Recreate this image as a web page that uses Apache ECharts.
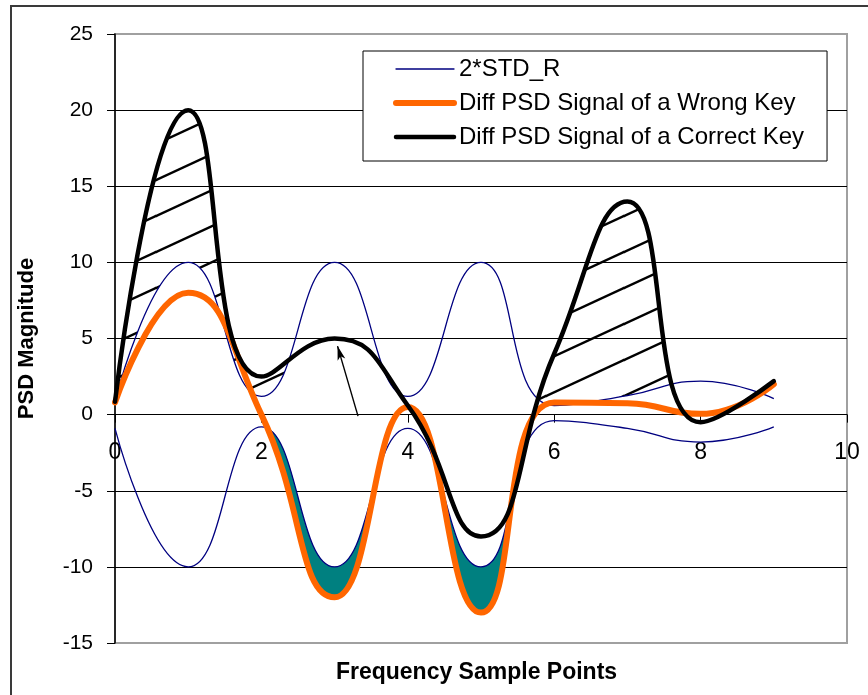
<!DOCTYPE html>
<html><head><meta charset="utf-8">
<script src="https://cdn.jsdelivr.net/npm/echarts@6/dist/echarts.min.js"></script>
<style>html,body{margin:0;padding:0;background:#fff}#c{width:868px;height:695px}</style>
</head><body><div id="c"></div>
<script>
// ---- data ----
const xs = [0, 1, 2, 3, 4, 5, 6, 7, 8, 9];
const stdUpper   = [0.9, 10, 1.2, 10, 1.2, 10, 0.6, 1.25, 2.2, 1.05];
const stdLower   = [-0.9, -10, -0.8, -10, -0.9, -10, -0.4, -0.9, -1.8, -0.8];
const wrongKey   = [0.8, 8, 0, -12, 0.5, -13, 0.8, 0.75, 0.05, 2.0];
const correctKey = [0.85, 20, 2.5, 5, 0.6, -8, 4.0, 14, -0.5, 2.2];
const seriesNames = ['2*STD_R', 'Diff PSD Signal of a Wrong Key', 'Diff PSD Signal of a Correct Key'];
const xAxisName = 'Frequency Sample Points';
const yAxisName = 'PSD Magnitude';
const xRange = [0, 10, 2];     // min, max, interval
const yRange = [-15, 25, 5];
// annotation arrow pointing at the correct-key point at x = 3
const arrowTail = [3.32, -0.1];
const arrowHead = [3.04, 4.5];
// x ranges where the hatched "correct key above 2*STD" area is marked
const hatchRanges = [[0, 3], [5, 8]];

const FONT = 'Liberation Sans, Arial, sans-serif';
const SMOOTH = 0.5;
const COLORS = ['#000080', '#FF6600', '#000000'];
const WIDTHS = [1.3, 6, 4.5];
const GRID = { left: 115, right: 21, top: 34, bottom: 52 };
const H = 695;

function pairs(arr) { return xs.map((x, i) => [x, arr[i]]); }

// same bezier construction as ECharts' smoothed line (so fills follow the drawn lines)
function smoothSegs(pts, smooth) {
  const segs = [];
  let prevX, prevY, cpx0, cpy0, cpx1, cpy1;
  const n = pts.length;
  for (let idx = 0; idx < n; idx++) {
    const x = pts[idx][0], y = pts[idx][1];
    if (idx === 0) { cpx0 = x; cpy0 = y; }
    else {
      let nextCpx0, nextCpy0;
      if (idx === n - 1) { cpx1 = x; cpy1 = y; }
      else {
        const nextX = pts[idx + 1][0], nextY = pts[idx + 1][1];
        let vx = nextX - prevX, vy = nextY - prevY;
        const dx0 = x - prevX, dx1 = nextX - x, dy0 = y - prevY, dy1 = nextY - y;
        const lenPrev = Math.sqrt(dx0 * dx0 + dy0 * dy0), lenNext = Math.sqrt(dx1 * dx1 + dy1 * dy1);
        const ratio = lenNext / (lenNext + lenPrev);
        nextCpx0 = x + vx * smooth * ratio;
        nextCpy0 = y + vy * smooth * ratio;
        nextCpx0 = Math.min(nextCpx0, Math.max(nextX, x));
        nextCpy0 = Math.min(nextCpy0, Math.max(nextY, y));
        nextCpx0 = Math.max(nextCpx0, Math.min(nextX, x));
        nextCpy0 = Math.max(nextCpy0, Math.min(nextY, y));
        vx = nextCpx0 - x; vy = nextCpy0 - y;
        cpx1 = x - vx * lenPrev / lenNext;
        cpy1 = y - vy * lenPrev / lenNext;
        cpx1 = Math.min(cpx1, Math.max(prevX, x));
        cpy1 = Math.min(cpy1, Math.max(prevY, y));
        cpx1 = Math.max(cpx1, Math.min(prevX, x));
        cpy1 = Math.max(cpy1, Math.min(prevY, y));
        vx = x - cpx1; vy = y - cpy1;
        nextCpx0 = x + vx * lenNext / lenPrev;
        nextCpy0 = y + vy * lenNext / lenPrev;
      }
      segs.push([prevX, prevY, cpx0, cpy0, cpx1, cpy1, x, y]);
      cpx0 = nextCpx0; cpy0 = nextCpy0;
    }
    prevX = x; prevY = y;
  }
  return segs;
}
function sampleCurve(pts) {
  const out = [];
  smoothSegs(pts, SMOOTH).forEach(s => {
    for (let k = 0; k <= 80; k++) {
      const t = k / 80, u = 1 - t;
      const a = u * u * u, b = 3 * u * u * t, c = 3 * u * t * t, d = t * t * t;
      out.push([a * s[0] + b * s[2] + c * s[4] + d * s[6], a * s[1] + b * s[3] + c * s[5] + d * s[7]]);
    }
  });
  out.sort((p, q) => p[0] - q[0]);
  return out;
}
function yAt(samples, x) {
  let lo = 0, hi = samples.length - 1;
  if (x <= samples[0][0]) return samples[0][1];
  if (x >= samples[hi][0]) return samples[hi][1];
  while (hi - lo > 1) { const m = (lo + hi) >> 1; if (samples[m][0] <= x) lo = m; else hi = m; }
  const p = samples[lo], q = samples[hi];
  const t = q[0] === p[0] ? 0 : (x - p[0]) / (q[0] - p[0]);
  return p[1] + t * (q[1] - p[1]);
}
// polygons where curve A lies above curve B (smaller pixel y)
function regionsAbove(A, B, x0, x1) {
  const polys = []; let cur = null;
  const flush = () => {
    if (cur && cur.length > 1) {
      const top = cur.map(p => [p[0], p[1]]);
      const bot = cur.slice().reverse().map(p => [p[0], p[2]]);
      polys.push(top.concat(bot));
    }
    cur = null;
  };
  for (let px = x0; px <= x1; px += 0.5) {
    const ya = yAt(A, px), yb = yAt(B, px);
    if (ya < yb) { if (!cur) cur = []; cur.push([px, ya, yb]); }
    else flush();
  }
  flush();
  return polys;
}
function makeHatch() {
  const w = 78, h = 36, c = document.createElement('canvas');
  c.width = w; c.height = h;
  const g = c.getContext('2d');
  g.strokeStyle = '#000'; g.lineWidth = 2.4;
  [-h, 0, h].forEach(off => { g.beginPath(); g.moveTo(-2, h + off + 1); g.lineTo(w + 2, off - 1); g.stroke(); });
  return c;
}
const hatchPattern = { image: makeHatch(), repeat: 'repeat' };

function renderFills(params, api) {
  const px = arr => xs.map((x, i) => api.coord([x, arr[i]]));
  const up = sampleCurve(px(stdUpper)), lo = sampleCurve(px(stdLower));
  const wr = sampleCurve(px(wrongKey)), co = sampleCurve(px(correctKey));
  const children = [];
  hatchRanges.forEach(r => {
    const a = api.coord([r[0], 0])[0], b = api.coord([r[1], 0])[0];
    regionsAbove(co, up, a, b).forEach(pts => children.push({
      type: 'polygon', shape: { points: pts }, style: { fill: hatchPattern, stroke: null }
    }));
  });
  const x0 = api.coord([xs[0], 0])[0], x1 = api.coord([xs[xs.length - 1], 0])[0];
  regionsAbove(lo, wr, x0, x1).forEach(pts => children.push({
    type: 'polygon', shape: { points: pts }, style: { fill: '#008080', stroke: null }
  }));
  return { type: 'group', children };
}

const chart = echarts.init(document.getElementById('c'), null, { renderer: 'canvas' });
const yTickCount = Math.round((yRange[1] - yRange[0]) / yRange[2]) + 1;
const splitColors = [];
for (let i = 0; i < yTickCount; i++) splitColors.push(i === 0 || i === yTickCount - 1 ? '#a0a0a0' : '#000');
// the x axis crosses the value axis at y = 0
const gridH = H - GRID.top - GRID.bottom;
const xAxisOffset = -gridH * (0 - yRange[0]) / (yRange[1] - yRange[0]);

const lineBase = { type: 'line', smooth: SMOOTH, showSymbol: false, symbol: 'none', animation: false, silent: true };

chart.setOption({
  animation: false,
  textStyle: { fontFamily: FONT },
  grid: Object.assign({ outerBoundsMode: 'none', containLabel: false,
          show: true, borderColor: '#a0a0a0', borderWidth: 2, backgroundColor: '#fff' }, GRID),
  legend: {
    data: seriesNames.map((n, i) => ({ name: n, lineStyle: { width: WIDTHS[i], color: COLORS[i], cap: 'round' } })),
    orient: 'vertical', left: 363, top: 51,
    backgroundColor: '#fff', borderColor: '#000', borderWidth: 1, borderRadius: 0,
    padding: [6, 23, 12, 30], itemGap: 10, itemWidth: 58, itemHeight: 20,
    itemStyle: { opacity: 0 },
    textStyle: { fontFamily: FONT, fontSize: 24, color: '#000' }
  },
  xAxis: {
    type: 'value', min: xRange[0], max: xRange[1], interval: xRange[2],
    position: 'bottom', offset: xAxisOffset,
    name: xAxisName, nameLocation: 'middle', nameGap: 247,
    nameTextStyle: { fontFamily: FONT, fontSize: 23, fontWeight: 'bold', color: '#000', padding: [0, 9, 0, 0] },
    axisLine: { show: true, onZero: false, lineStyle: { color: '#000', width: 1 } },
    axisTick: { show: true, inside: false, length: 8, lineStyle: { color: '#000' } },
    axisLabel: { fontFamily: FONT, fontSize: 23, color: '#000', margin: 27 },
    splitLine: { show: false }
  },
  yAxis: {
    type: 'value', min: yRange[0], max: yRange[1], interval: yRange[2],
    name: yAxisName, nameLocation: 'middle', nameRotate: 90, nameGap: 77,
    nameTextStyle: { fontFamily: FONT, fontSize: 22, fontWeight: 'bold', color: '#000' },
    axisLine: { show: true, onZero: false, lineStyle: { color: '#000', width: 1.5 } },
    axisTick: { show: true, inside: false, length: 8, lineStyle: { color: '#000' } },
    axisLabel: { fontFamily: FONT, fontSize: 21, color: '#000', margin: 22 },
    splitLine: { show: true, lineStyle: { color: splitColors, width: 1.2 } }
  },
  graphic: [{
    type: 'rect', shape: { x: 11, y: 6, width: 900, height: 750 },
    style: { fill: null, stroke: '#3a3a3a', lineWidth: 2 }, z: 100, silent: true
  }],
  series: [
    { name: 'fills', type: 'custom', renderItem: renderFills, data: [[0, 0]], silent: true, z: 1, animation: false, clip: false },
    Object.assign({}, lineBase, { name: seriesNames[0], data: pairs(stdUpper), z: 2,
      lineStyle: { color: COLORS[0], width: WIDTHS[0] }, itemStyle: { color: COLORS[0] } }),
    Object.assign({}, lineBase, { name: seriesNames[0], data: pairs(stdLower), z: 2,
      lineStyle: { color: COLORS[0], width: WIDTHS[0] }, itemStyle: { color: COLORS[0] } }),
    Object.assign({}, lineBase, { name: seriesNames[1], data: pairs(wrongKey), z: 3,
      lineStyle: { color: COLORS[1], width: WIDTHS[1], cap: 'round', join: 'round' }, itemStyle: { color: COLORS[1] } }),
    Object.assign({}, lineBase, { name: seriesNames[2], data: pairs(correctKey), z: 4,
      lineStyle: { color: COLORS[2], width: WIDTHS[2], cap: 'round', join: 'round' }, itemStyle: { color: COLORS[2] },
      markLine: {
        silent: true, animation: false, symbol: ['none', 'arrow'], symbolSize: [6, 14],
        label: { show: false },
        lineStyle: { color: '#000', width: 1.4, type: 'solid' },
        data: [[{ coord: arrowTail }, { coord: arrowHead }]]
      } })
  ]
});
</script></body></html>
